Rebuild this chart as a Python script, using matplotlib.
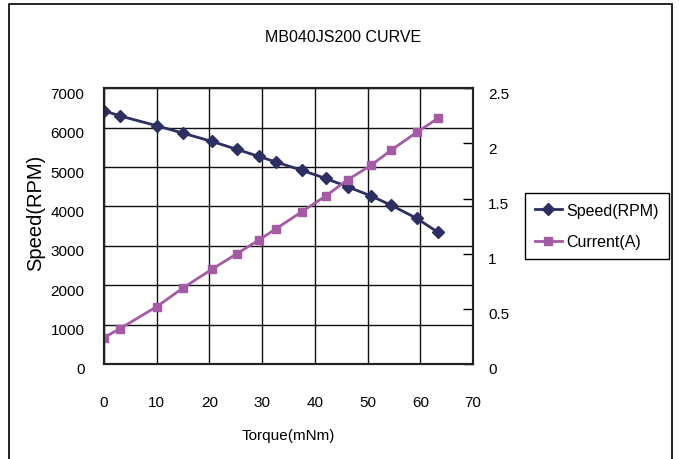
import matplotlib
matplotlib.use("Agg")
import matplotlib.pyplot as plt
import matplotlib.transforms as mtransforms
from matplotlib.patches import Rectangle

torque = [0, 3, 10, 15, 20.5, 25.2, 29.4, 32.6, 37.5, 42.1, 46.2, 50.6, 54.5, 59.3, 63.4]
speed = [6430, 6300, 6050, 5860, 5650, 5450, 5270, 5130, 4920, 4710, 4500, 4270, 4030, 3700, 3340]
current = [0.24, 0.32, 0.52, 0.69, 0.86, 1.0, 1.125, 1.225, 1.38, 1.525, 1.67, 1.80, 1.94, 2.10, 2.23]

x_ticks = [0, 10, 20, 30, 40, 50, 60, 70]
left_ticks = [0, 1000, 2000, 3000, 4000, 5000, 6000, 7000]
right_ticks = [0, 0.5, 1, 1.5, 2, 2.5]
right_labels = ["0", "0.5", "1", "1.5", "2", "2.5"]

plt.rcParams['font.family'] = ['Liberation Sans', 'DejaVu Sans']

W, H = 679, 460
fig = plt.figure(figsize=(W / 100, H / 100), dpi=100)

# outer frame
fig.patches.append(Rectangle((9 / W, -0.05), (672 - 9) / W, 1.05 - 5 / H,
                             transform=fig.transFigure, fill=False,
                             edgecolor='black', linewidth=1.2))

ax = fig.add_axes([104 / W, 1 - 365 / H, 369 / W, (365 - 89.3) / H])
ax2 = ax.twinx()

speed_color = '#2D2F62'
current_color = '#A55AA6'

l1, = ax.plot(torque, speed, color=speed_color, lw=2, marker='D', ms=6,
              label='Speed(RPM)')
l2, = ax2.plot(torque, current, color=current_color, lw=2, marker='s', ms=5.5,
               label='Current(A)')

ax.set_xlim(0, 70)
ax.set_ylim(0, 7000)
ax2.set_ylim(0, 2.5)
ax.set_xticks(x_ticks)
ax.set_yticks(left_ticks)
ax2.set_yticks(right_ticks)
ax2.set_yticklabels(right_labels)

ax.grid(True, color='#111111', linewidth=1.0)
for sp in list(ax.spines.values()) + list(ax2.spines.values()):
    sp.set_linewidth(1.5)
    sp.set_color('#222222')

ax.tick_params(axis='x', length=0, pad=22, labelsize=11)
ax.tick_params(axis='y', length=0, pad=14, labelsize=11)
ax2.tick_params(axis='y', direction='in', length=7, width=1, pad=11, labelsize=11)

off = mtransforms.ScaledTranslation(0, -4 / 100, fig.dpi_scale_trans)
for lab in ax.get_yticklabels() + ax2.get_yticklabels():
    lab.set_transform(lab.get_transform() + off)

fig.text(343 / W, 1 - 38 / H, 'MB040JS200 CURVE', ha='center', va='center', fontsize=11.5)
fig.text(36 / W, 1 - 213 / H, 'Speed(RPM)', rotation=90, ha='center', va='center',
         fontsize=14.5)
fig.text(288 / W, 1 - 436 / H, 'Torque(mNm)', ha='center', va='center', fontsize=11)

leg = fig.legend([l1, l2], ['Speed(RPM)', 'Current(A)'], loc='upper left',
                 bbox_to_anchor=(525 / W, 1 - 194 / H), borderaxespad=0,
                 fancybox=False, edgecolor='black', framealpha=1,
                 fontsize=11.5, handlelength=1.7, handletextpad=0.3,
                 borderpad=0.6, labelspacing=1.05)
leg.get_frame().set_linewidth(1.0)

fig.savefig('out.png', dpi=100)
